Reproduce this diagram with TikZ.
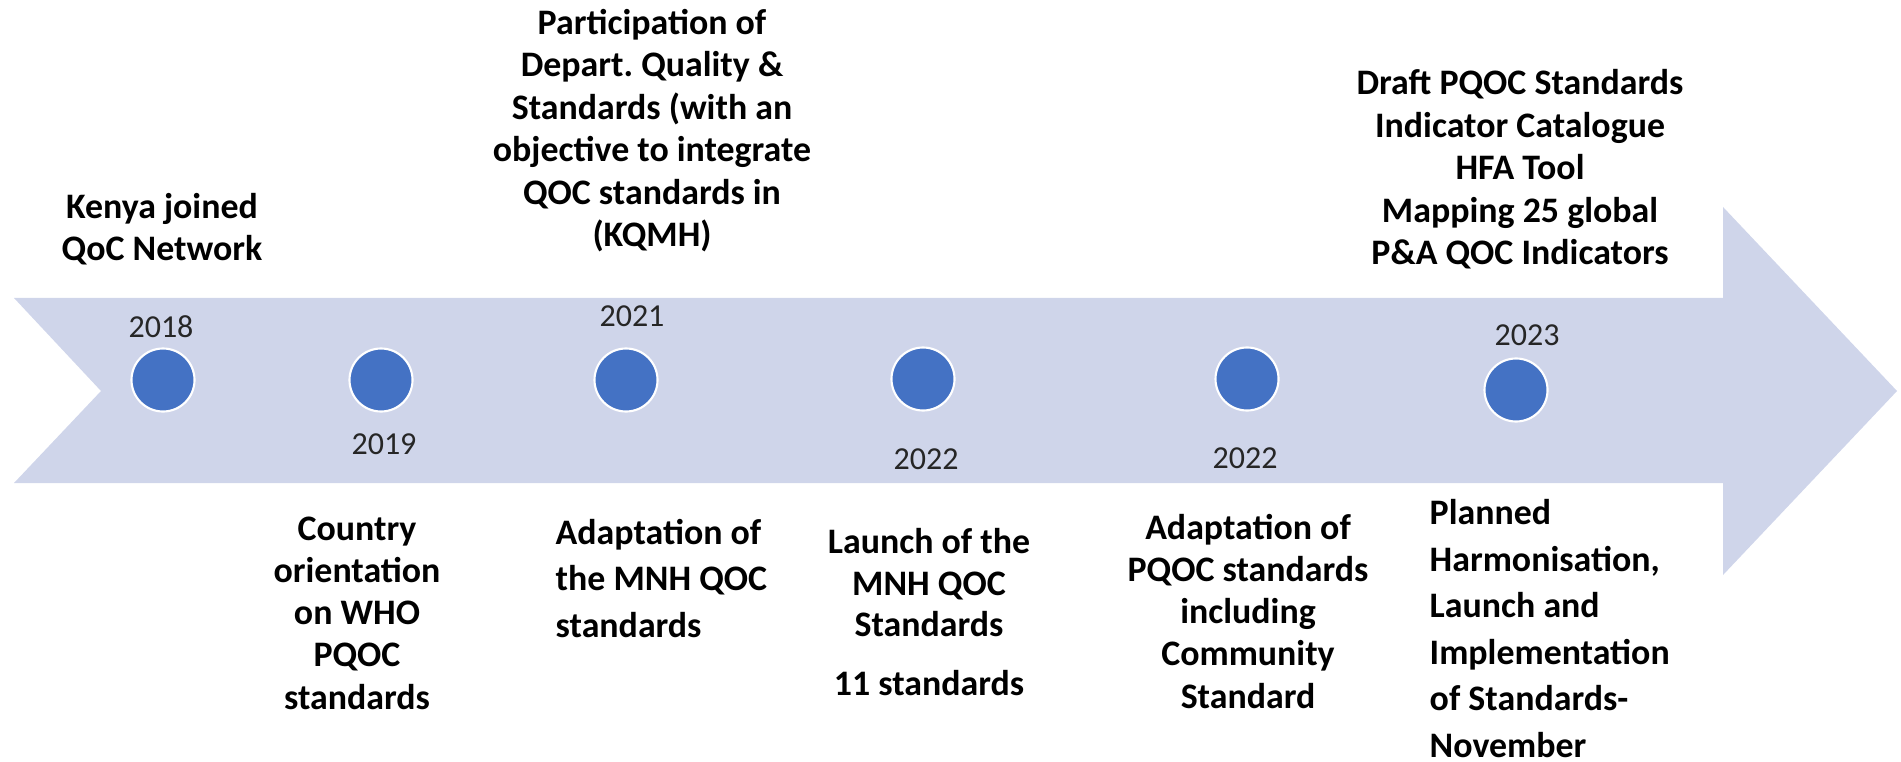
\documentclass[tikz,border=0pt]{standalone}
\usepackage{fontspec}
\setmainfont{Carlito}
\usepackage{xcolor}
\usepackage{tikz}
\usetikzlibrary{calc, positioning}

\definecolor{bandblue}{HTML}{CFD5EA}
\definecolor{dotblue}{HTML}{4472C4}
\definecolor{yeargray}{HTML}{262626}

\begin{document}
\begin{tikzpicture}[x=0.01cm, y=-0.01cm,
    dot/.style={circle, fill=dotblue, draw=white, line width=0.6pt, minimum size=0.63cm, inner sep=0},
    year/.style={inner sep=0, text=yeargray, font=\fontsize{9.1}{11}\selectfont},
    event/.style={inner sep=0, anchor=base, align=center, font=\bfseries\fontsize{10.2}{#1}\selectfont},
    event/.default=12.1]
    \useasboundingbox (0,0) rectangle (1901,761);

    % Mũi tên nền
    \fill[bandblue] (14,298) -- (1723,298) -- (1723,207) -- (1897,391)
        -- (1723,575) -- (1723,483) -- (14,483) -- (101,391) -- cycle;

    % Các mốc trên trục
    \foreach \name/\x/\y in {m18/163/380, m19/381/380, m21/626/380, m22/923/379, m22b/1247/379, m23/1516/390} {
        \node[dot] (\name) at (\x,\y) {};
    }

    % Năm
    \node[year] (y18) at (161,327) {2018};
    \node[year] (y19) at (384,444) {2019};
    \node[year] (y21) at (632,316) {2021};
    \node[year] (y22) at (926,459) {2022};
    \node[year] (y22b) at (1245,458) {2022};
    \node[year] (y23) at (1527,335) {2023};

    % Nội dung phía trên (toạ độ là đường chân dòng cuối)
    \node[event=12.2] (kenya) at (162,261) {Kenya joined\\QoC Network};
    \node[event] (particip) at (652,247) {Participation of\\Depart.\ Quality \&\\Standards (with an\\objective to integrate\\QOC standards in\\(KQMH)};
    \node[event] (draft) at (1520,265) {Draft PQOC Standards\\Indicator Catalogue\\HFA Tool\\Mapping 25 global\\P\&A QOC Indicators};

    % Nội dung phía dưới
    \node[event=11.95] (country) at (357,709) {Country\\orientation\\on WHO\\PQOC\\standards};
    \node[event=13.1, align=left, anchor=base west] (adaptmnh) at (555,637) {Adaptation of\\the MNH QOC\\standards};
    \node[event=11.8] (launch) at (929,695) {Launch of the\\MNH QOC\\Standards\\[4.7pt]11 standards};
    \node[event=11.95] (adaptpqoc) at (1248,708) {Adaptation of\\PQOC standards\\including\\Community\\Standard};
    \node[event=13.2, align=left, anchor=base west] (planned) at (1429,757) {Planned\\Harmonisation,\\Launch and\\Implementation\\of Standards-\\November};
\end{tikzpicture}
\end{document}
